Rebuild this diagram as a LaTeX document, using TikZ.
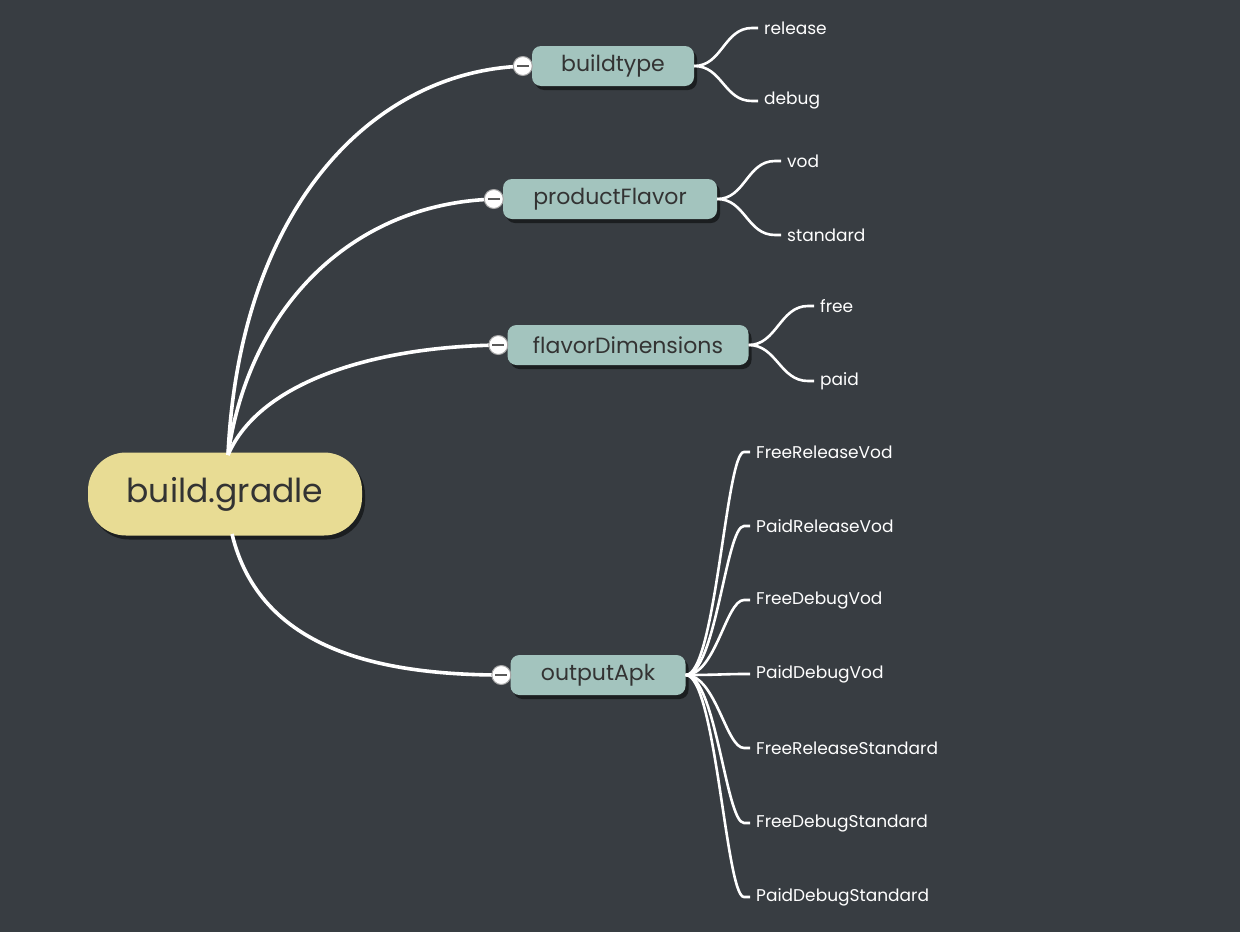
\documentclass[tikz,border=0pt]{standalone}
\usepackage{fontspec}
\setmainfont{Poppins}
\usetikzlibrary{shadows}
\definecolor{bg}{HTML}{383D42}
\definecolor{mid}{HTML}{A3C4BE}
\definecolor{rootc}{HTML}{E8DC94}
\definecolor{txt}{HTML}{333333}
\tikzset{
  br/.style={fill=mid,rounded corners=9pt,minimum height=40pt,inner xsep=10pt,text=txt,font=\fontsize{22}{24}\selectfont,drop shadow={shadow xshift=3pt,shadow yshift=-4pt,fill=black,opacity=0.5}},
  lf/.style={anchor=west,text=white,font=\fontsize{17}{18}\selectfont,inner sep=0pt},
  ln/.style={draw=white,line width=3.6pt},
  sl/.style={draw=white,line width=2.6pt},
  knob/.style={circle,fill=white,draw=gray!70,line width=1pt,minimum size=19pt,inner sep=0pt}
}
\begin{document}
\begin{tikzpicture}[x=1pt,y=-1pt]
\fill[bg] (0,0) rectangle (1240,932);
\useasboundingbox (0,0) rectangle (1240,932);
\node[fill=rootc,rounded corners=38pt,minimum width=274pt,minimum height=83pt,text=txt,font=\fontsize{33}{36}\selectfont,drop shadow={shadow xshift=3pt,shadow yshift=-4pt,fill=black,opacity=0.5}] (root) at (225,494) {build.gradle};
\node[br,minimum width=162pt] (bt) at (613,66) {buildtype};
\node[br,minimum width=214pt] (pf) at (610,199) {productFlavor};
\node[br,minimum width=241pt] (fd) at (628,345) {flavorDimensions};
\node[br,minimum width=175pt] (oa) at (598,675) {outputApk};
\coordinate (r1) at (228,455);
\coordinate (r2) at (232,534);
\draw[ln] (r1) .. controls (240,200) and (380,66) .. (bt.west);
\draw[ln] (r1) .. controls (250,300) and (360,199) .. (pf.west);
\draw[ln] (r1) .. controls (260,380) and (380,345) .. (fd.west);
\draw[ln] (r2) .. controls (260,650) and (380,676) .. (oa.west);
\foreach \k/\n in {k1/bt,k2/pf,k3/fd,k4/oa}{
  \node[knob] (\k) at ([xshift=-9pt]\n.west) {};
  \draw[gray!70!black,line width=1.5pt] ([xshift=-6pt]\k.center) -- ([xshift=6pt]\k.center);
}
% leaves
\node[lf] (l1) at (764,28) {release};
\node[lf] (l2) at (764,101) {debug};
\node[lf] (l3) at (787,161) {vod};
\node[lf] (l4) at (787,235) {standard};
\node[lf] (l5) at (820,306) {free};
\node[lf] (l6) at (820,381) {paid};
\foreach \p/\l in {bt/l1,bt/l2,pf/l3,pf/l4,fd/l5,fd/l6}{
  \draw[sl] (\p.east) .. controls +(28,0) and ([xshift=-40pt]\l.west) .. ([xshift=-12pt]\l.west) -- ([xshift=-6pt]\l.west);
}
\foreach \i/\t/\y in {1/FreeReleaseVod/452,2/PaidReleaseVod/526,3/FreeDebugVod/600,4/PaidDebugVod/674,5/FreeReleaseStandard/748,6/FreeDebugStandard/823,7/PaidDebugStandard/897}{
  \node[lf] (o\i) at (756,\y) {\t};
  \draw[sl] (oa.east) .. controls +(30,0) and ([xshift=-30pt]o\i.west) .. ([xshift=-12pt]o\i.west) -- ([xshift=-6pt]o\i.west);
}
\end{tikzpicture}
\end{document}
